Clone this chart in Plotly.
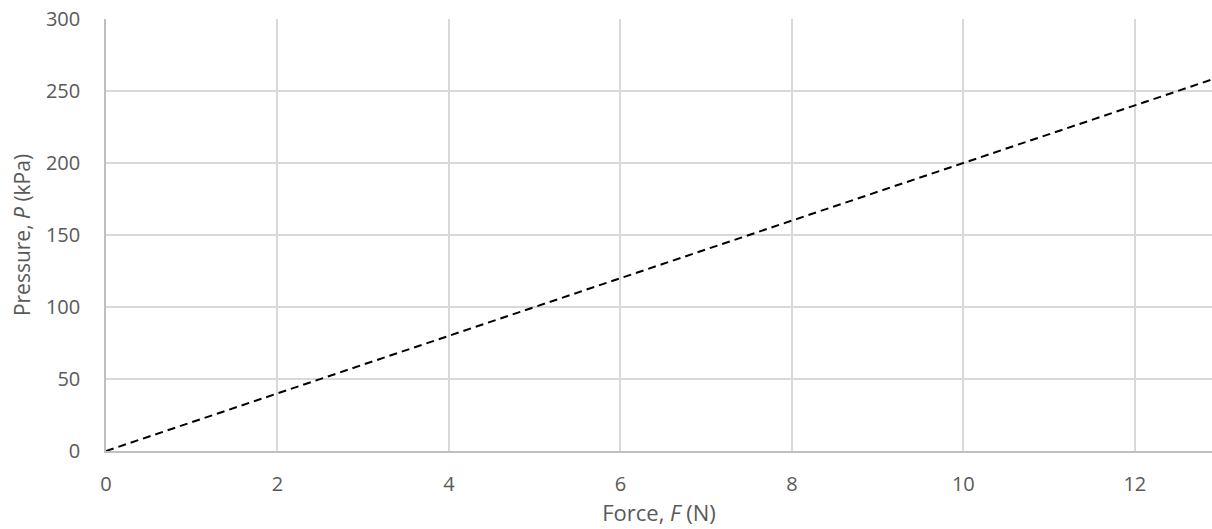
import plotly.graph_objects as go

# Linear pressure response to applied force
force_n = [0, 12.9]
pressure_kpa = [0, 258]

x_ticks = [0, 2, 4, 6, 8, 10, 12]
y_ticks = [0, 50, 100, 150, 200, 250, 300]

font_family = "Open Sans, Liberation Sans, sans-serif"
text_color = "#595959"

fig = go.Figure()
fig.add_trace(go.Scatter(
    x=force_n, y=pressure_kpa, mode="lines",
    line=dict(color="black", width=2, dash="8px,5px"),
    showlegend=False, hoverinfo="skip",
))

fig.update_layout(
    width=1212, height=529,
    margin=dict(l=106, r=0, t=19, b=78),
    paper_bgcolor="white", plot_bgcolor="white",
    font=dict(family=font_family, size=20, color=text_color),
    xaxis=dict(
        range=[0, 12.9], tickvals=x_ticks, showgrid=True, gridcolor="#d9d9d9", gridwidth=1.5,
        showline=True, linecolor="#bfbfbf", linewidth=1.5, zeroline=False,
        ticks="", ticklabelstandoff=14, tickfont=dict(size=20),
        title=dict(text="Force, <i>F</i> (N)", standoff=8, font=dict(size=22)),
    ),
    yaxis=dict(
        range=[0, 300], tickvals=y_ticks, showgrid=True, gridcolor="#d9d9d9", gridwidth=1.5,
        showline=True, linecolor="#bfbfbf", linewidth=1.5, zeroline=False,
        ticks="", ticklabelstandoff=20, tickfont=dict(size=20),
        title=dict(text="Pressure, <i>P</i> (kPa)", standoff=10, font=dict(size=21)),
    ),
)

fig.write_html("out.html")
